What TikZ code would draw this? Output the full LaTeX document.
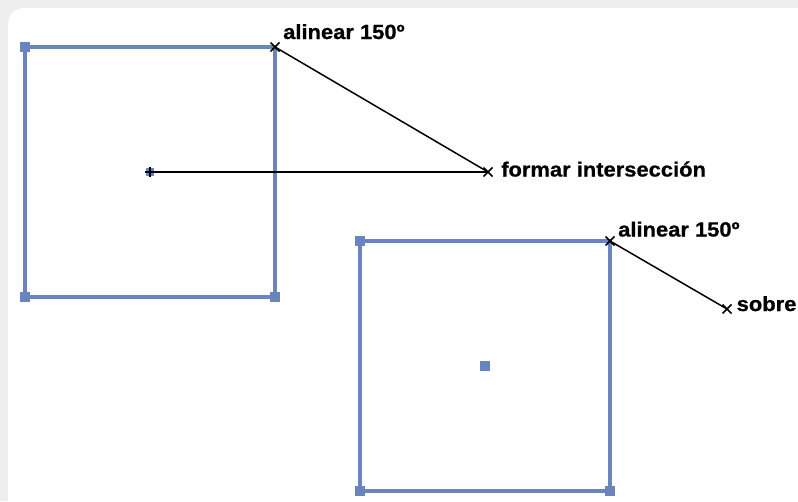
\documentclass[tikz,border=0pt]{standalone}
\usepackage{fontspec}
\setmainfont{Liberation Sans}
\newfontfamily\lblfont[FakeStretch=1.07,BoldFeatures={FakeBold=0.8}]{Liberation Sans}
\usetikzlibrary{calc}
\begin{document}
\begin{tikzpicture}[x=1pt,y=-1pt,
  sq/.style={draw=sqblue,line width=3.3pt},
  handle/.style={fill=sqblue,minimum size=9.5pt,inner sep=0pt,outer sep=0pt,draw=none},
  guide/.style={draw=black,line width=1.5pt},
  lbl/.style={font=\lblfont\bfseries\fontsize{20.5}{22}\selectfont,inner sep=0pt,anchor=base west}]
\definecolor{sqblue}{HTML}{6A84C0}
\definecolor{shadow}{HTML}{EEEEEE}
\useasboundingbox (0,0) rectangle (798,501);
\fill[shadow] (0,0) rectangle (798,501);
\fill[white,rounded corners=16pt] (8,8) rectangle (830,530);
% square 1
\coordinate (a1) at (25,47); \coordinate (b1) at (275,47);
\coordinate (c1) at (275,297); \coordinate (d1) at (25,297);
\coordinate (m1) at (150,172);
\draw[sq] (a1) -- (b1) -- (c1) -- (d1) -- cycle;
\node[handle] (ha1) at (a1) {};
\node[handle] (hc1) at (c1) {};
\node[handle] (hd1) at (d1) {};
\node[handle,minimum size=8pt] (hm1) at (m1) {};
\coordinate (p1) at (488,172);
\draw[guide] (b1) -- (p1);
\draw[guide] (m1) -- (p1);
\draw[guide] ($(b1)+(-4.5,-4.5)$) -- ++(9,9) ($(b1)+(-4.5,4.5)$) -- ++(9,-9);
\draw[guide] ($(p1)+(-4.5,-4.5)$) -- ++(9,9) ($(p1)+(-4.5,4.5)$) -- ++(9,-9);
\draw[guide] ($(m1)+(-5,0)$) -- ++(10,0) ($(m1)+(0,-5)$) -- ++(0,10);
\node[lbl] (t1) at (283,39) {alinear 150º};
\node[lbl] (t2) at (501,176.5) {formar intersección};
% square 2
\coordinate (a2) at (360,241); \coordinate (b2) at (610,241);
\coordinate (c2) at (610,491); \coordinate (d2) at (360,491);
\coordinate (m2) at (485,366);
\draw[sq] (a2) -- (b2) -- (c2) -- (d2) -- cycle;
\node[handle] (ha2) at (a2) {};
\node[handle] (hc2) at (c2) {};
\node[handle] (hd2) at (d2) {};
\node[handle] (hm2) at (m2) {};
\coordinate (p2) at (727,309);
\draw[guide] (b2) -- (p2);
\draw[guide] ($(b2)+(-4.5,-4.5)$) -- ++(9,9) ($(b2)+(-4.5,4.5)$) -- ++(9,-9);
\draw[guide] ($(p2)+(-4.5,-4.5)$) -- ++(9,9) ($(p2)+(-4.5,4.5)$) -- ++(9,-9);
\node[lbl] (t3) at (618,236.5) {alinear 150º};
\node[lbl] (t4) at (736.5,311) {sobre};
\end{tikzpicture}
\end{document}
